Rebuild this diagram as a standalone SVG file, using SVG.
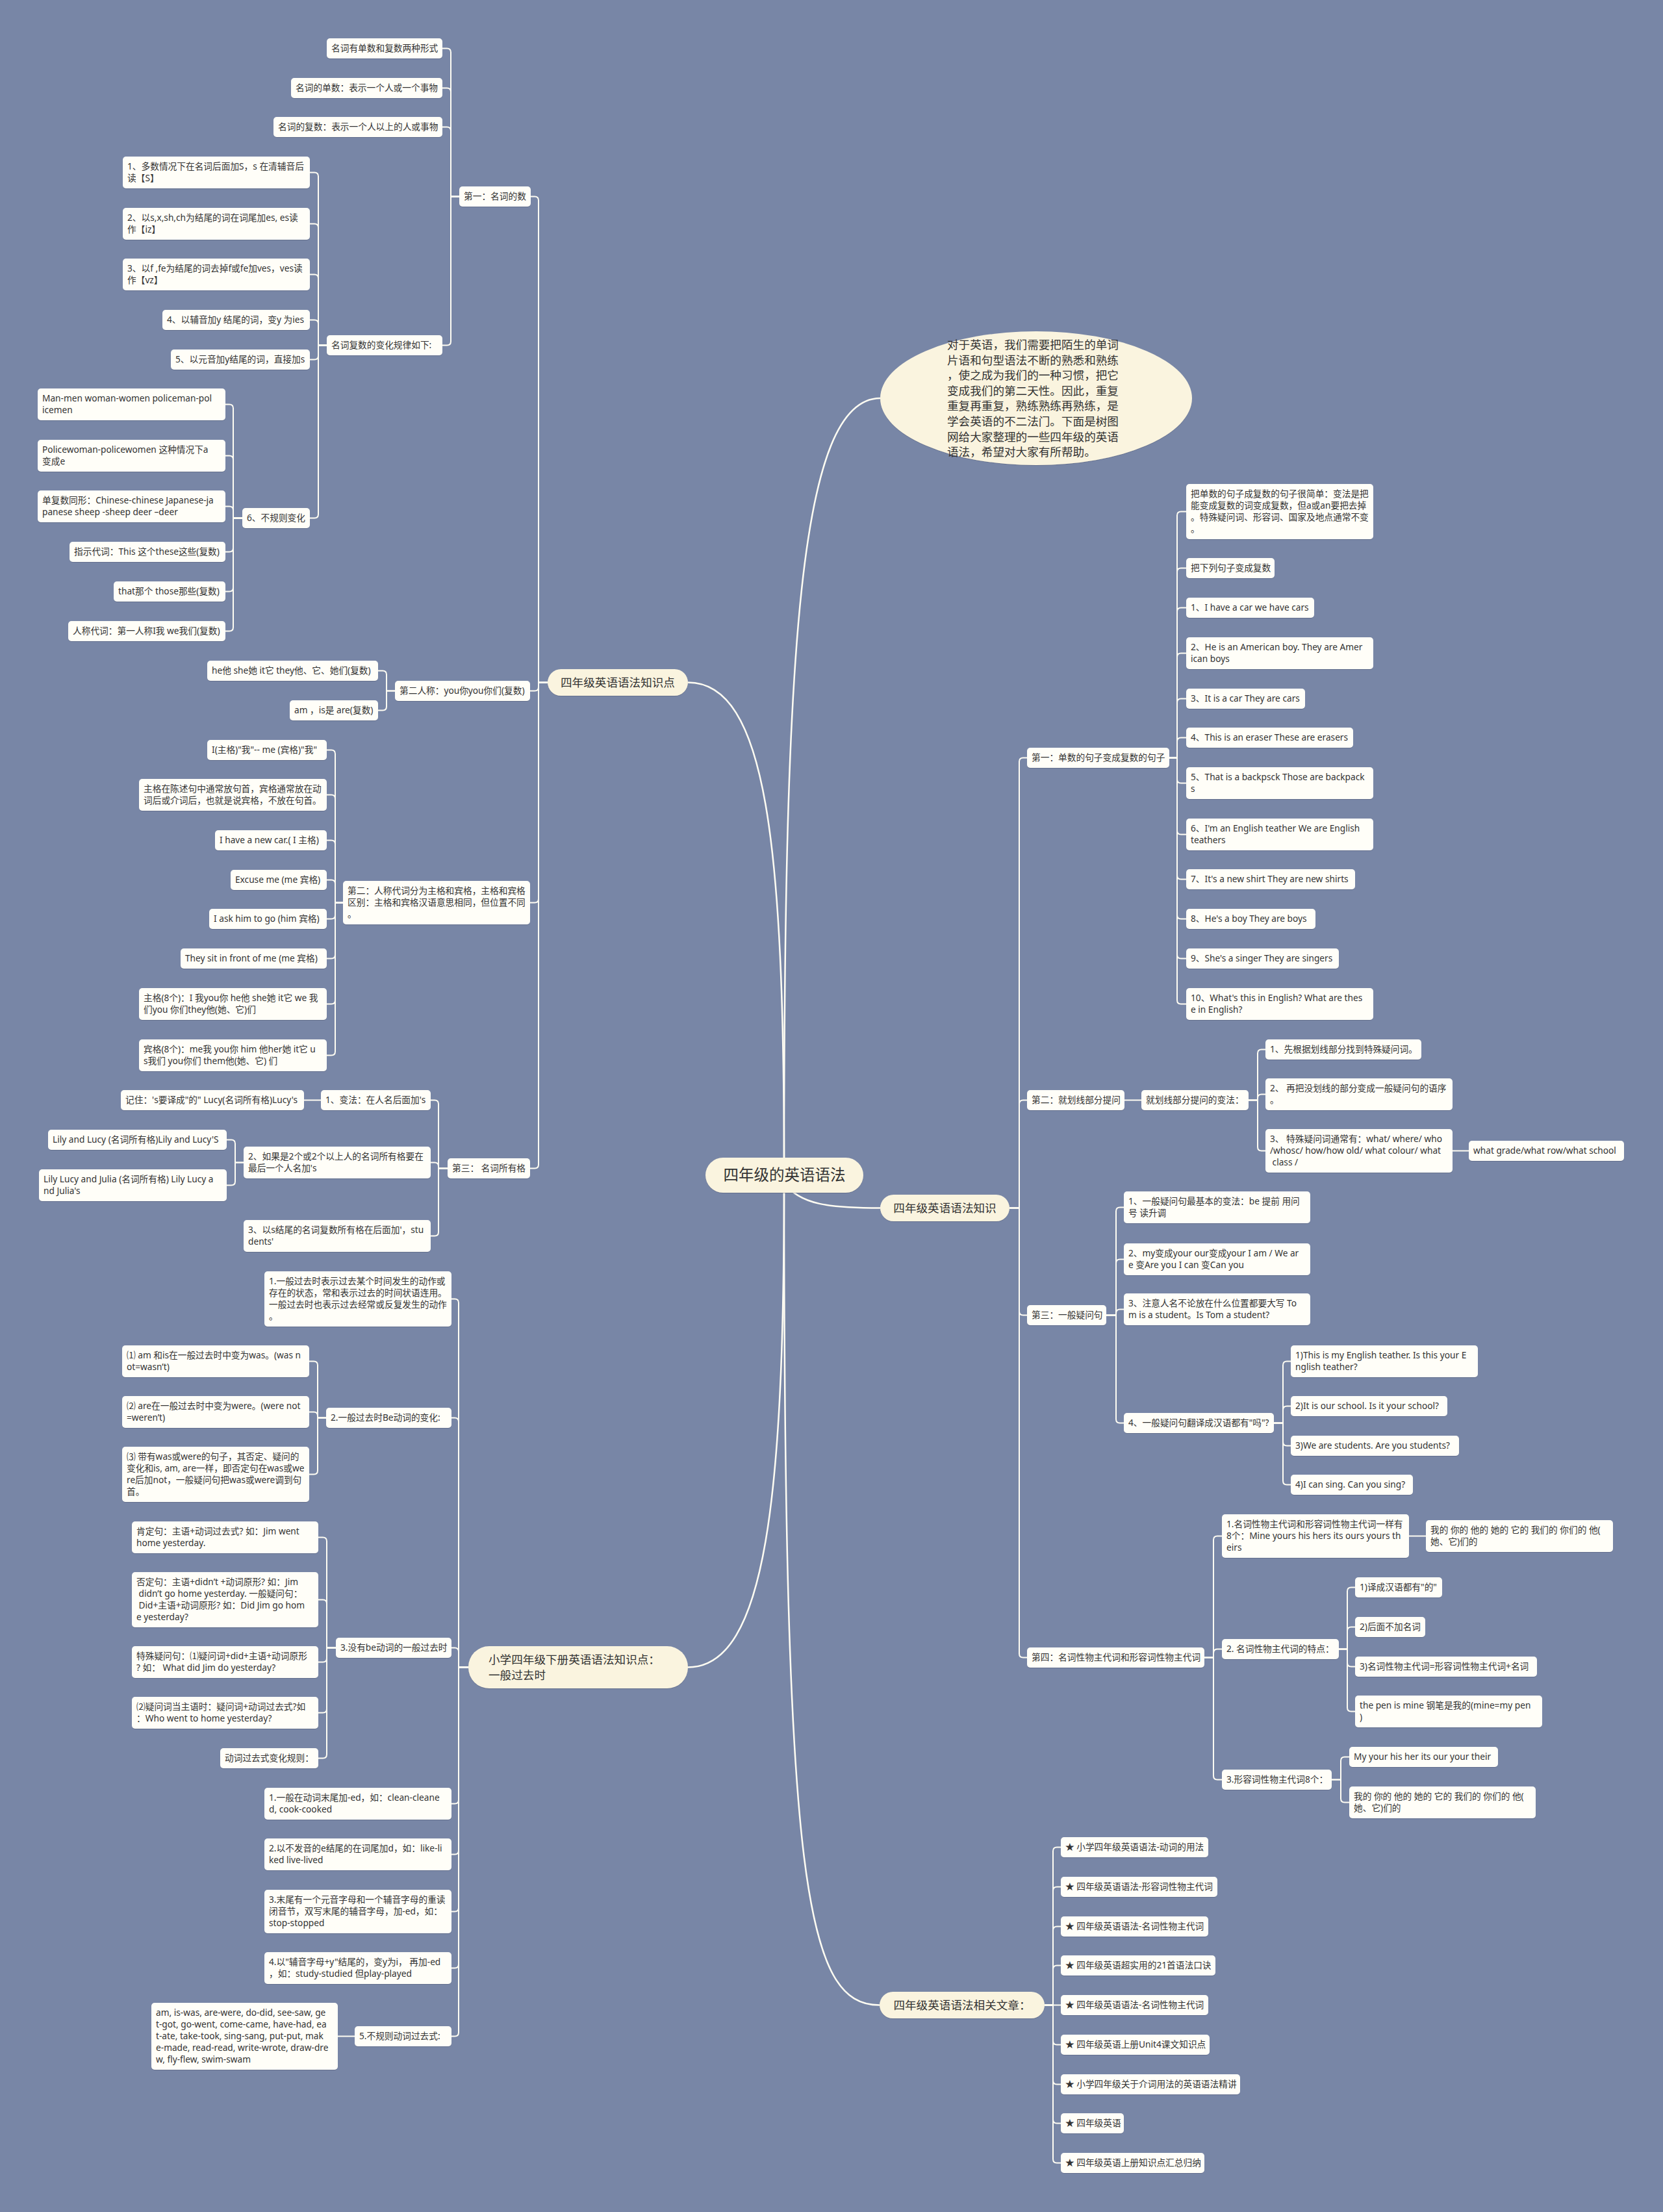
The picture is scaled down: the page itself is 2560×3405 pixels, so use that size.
<svg xmlns="http://www.w3.org/2000/svg" width="2560" height="3405" viewBox="0 0 2560 3405">
<defs>
<filter id="sh" x="-10%" y="-20%" width="120%" height="150%"><feDropShadow dx="0" dy="1" stdDeviation="0.7" flood-color="#3a4560" flood-opacity="0.35"/></filter>
<style>
.n rect{fill:#FFFEF8;rx:5px;ry:5px;filter:url(#sh)}
.n text{font-family:"Noto Sans","Noto Sans CJK SC",sans-serif;font-size:13.7px;fill:#333}
.m rect,.m ellipse{fill:#FAF4DF;filter:url(#sh)}
.m text{font-family:"Noto Sans CJK SC","Noto Sans",sans-serif;font-size:17.6px;fill:#333}
.c path{fill:none;stroke:#FFFDF3;stroke-width:2}
.c path.r{stroke-width:2.5}
</style>
</defs>
<rect x="0" y="0" width="2560" height="3405" fill="#7886A6"/>
<g id="connectors" class="c">
<path class="r" d="M1207,1800 C1207,1000 1230,613 1355,613"/>
<path class="r" d="M1059,1050.5 C1180,1050.5 1207,1300 1207,1800"/>
<path class="r" d="M1207,1820 C1230,1855 1280,1859.5 1355,1859.5"/>
<path class="r" d="M1059,2566.5 C1180,2566.5 1207,2300 1207,1820"/>
<path class="r" d="M1207,1820 C1207,2900 1240,3086.5 1354,3086.5"/>
<path d="M843,1050.5H829V308.5Q829,302.5 823,302.5H817"/>
<path d="M843,1050.5H829V1057.5Q829,1063.5 823,1063.5H816"/>
<path d="M843,1050.5H829V1383.5Q829,1389.5 823,1389.5H816"/>
<path d="M843,1050.5H829V1792.5Q829,1798.5 823,1798.5H816"/>
<path d="M707,302.5H694V80.5Q694,74.5 688,74.5H681"/>
<path d="M707,302.5H694V141.5Q694,135.5 688,135.5H681"/>
<path d="M707,302.5H694V201.5Q694,195.5 688,195.5H681"/>
<path d="M707,302.5H694V525.5Q694,531.5 688,531.5H681"/>
<path d="M503,531.5H490V271.5Q490,265.5 484,265.5H477"/>
<path d="M503,531.5H490V350.5Q490,344.5 484,344.5H477"/>
<path d="M503,531.5H490V428.5Q490,422.5 484,422.5H477"/>
<path d="M503,531.5H490V498.5Q490,492.5 484,492.5H477"/>
<path d="M503,531.5H490V547.5Q490,553.5 484,553.5H477"/>
<path d="M503,531.5H490V791.5Q490,797.5 484,797.5H477"/>
<path d="M373,797.5H359V628.5Q359,622.5 353,622.5H347"/>
<path d="M373,797.5H359V707.5Q359,701.5 353,701.5H347"/>
<path d="M373,797.5H359V785.5Q359,779.5 353,779.5H347"/>
<path d="M373,797.5H359V843.5Q359,849.5 353,849.5H347"/>
<path d="M373,797.5H359V904.5Q359,910.5 353,910.5H347"/>
<path d="M373,797.5H359V965.5Q359,971.5 353,971.5H347"/>
<path d="M608,1063.5H595V1038.5Q595,1032.5 589,1032.5H582"/>
<path d="M608,1063.5H595V1087.5Q595,1093.5 589,1093.5H582"/>
<path d="M528,1389.5H516V1160.5Q516,1154.5 510,1154.5H503"/>
<path d="M528,1389.5H516V1229.5Q516,1223.5 510,1223.5H503"/>
<path d="M528,1389.5H516V1299.5Q516,1293.5 510,1293.5H503"/>
<path d="M528,1389.5H516V1360.5Q516,1354.5 510,1354.5H503"/>
<path d="M528,1389.5H516V1408.5Q516,1414.5 510,1414.5H503"/>
<path d="M528,1389.5H516V1469.5Q516,1475.5 510,1475.5H503"/>
<path d="M528,1389.5H516V1539.5Q516,1545.5 510,1545.5H503"/>
<path d="M528,1389.5H516V1618.5Q516,1624.5 510,1624.5H503"/>
<path d="M689,1798.5H675V1699.5Q675,1693.5 669,1693.5H663"/>
<path d="M689,1798.5H675V1795.5Q675,1789.5 669,1789.5H663"/>
<path d="M689,1798.5H675V1896.5Q675,1902.5 669,1902.5H663"/>
<path d="M494,1693.5H468"/>
<path d="M375,1789.5H362V1760.5Q362,1754.5 356,1754.5H349"/>
<path d="M375,1789.5H362V1818.5Q362,1824.5 356,1824.5H349"/>
<path d="M721,2566.5H706V2005.5Q706,1999.5 700,1999.5H695"/>
<path d="M721,2566.5H706V2188.5Q706,2182.5 700,2182.5H695"/>
<path d="M721,2566.5H706V2542.5Q706,2536.5 700,2536.5H695"/>
<path d="M721,2566.5H706V2770.5Q706,2776.5 700,2776.5H695"/>
<path d="M721,2566.5H706V2848.5Q706,2854.5 700,2854.5H695"/>
<path d="M721,2566.5H706V2936.5Q706,2942.5 700,2942.5H695"/>
<path d="M721,2566.5H706V3023.5Q706,3029.5 700,3029.5H695"/>
<path d="M721,2566.5H706V3128.5Q706,3134.5 700,3134.5H695"/>
<path d="M502,2182.5H489V2101.5Q489,2095.5 483,2095.5H476"/>
<path d="M502,2182.5H489V2179.5Q489,2173.5 483,2173.5H476"/>
<path d="M502,2182.5H489V2263.5Q489,2269.5 483,2269.5H476"/>
<path d="M517,2536.5H503V2372.5Q503,2366.5 497,2366.5H490"/>
<path d="M517,2536.5H503V2468.5Q503,2462.5 497,2462.5H490"/>
<path d="M517,2536.5H503V2552.5Q503,2558.5 497,2558.5H490"/>
<path d="M517,2536.5H503V2630.5Q503,2636.5 497,2636.5H490"/>
<path d="M517,2536.5H503V2700.5Q503,2706.5 497,2706.5H490"/>
<path d="M546,3134.5H520"/>
<path d="M1554,1859.5H1569V1172.5Q1569,1166.5 1575,1166.5H1581"/>
<path d="M1554,1859.5H1569V1699.5Q1569,1693.5 1575,1693.5H1581"/>
<path d="M1554,1859.5H1569V2018.5Q1569,2024.5 1575,2024.5H1581"/>
<path d="M1554,1859.5H1569V2545.5Q1569,2551.5 1575,2551.5H1581"/>
<path d="M1800,1166.5H1812V793.5Q1812,787.5 1818,787.5H1826"/>
<path d="M1800,1166.5H1812V880.5Q1812,874.5 1818,874.5H1826"/>
<path d="M1800,1166.5H1812V941.5Q1812,935.5 1818,935.5H1826"/>
<path d="M1800,1166.5H1812V1011.5Q1812,1005.5 1818,1005.5H1826"/>
<path d="M1800,1166.5H1812V1081.5Q1812,1075.5 1818,1075.5H1826"/>
<path d="M1800,1166.5H1812V1141.5Q1812,1135.5 1818,1135.5H1826"/>
<path d="M1800,1166.5H1812V1199.5Q1812,1205.5 1818,1205.5H1826"/>
<path d="M1800,1166.5H1812V1278.5Q1812,1284.5 1818,1284.5H1826"/>
<path d="M1800,1166.5H1812V1347.5Q1812,1353.5 1818,1353.5H1826"/>
<path d="M1800,1166.5H1812V1408.5Q1812,1414.5 1818,1414.5H1826"/>
<path d="M1800,1166.5H1812V1469.5Q1812,1475.5 1818,1475.5H1826"/>
<path d="M1800,1166.5H1812V1539.5Q1812,1545.5 1818,1545.5H1826"/>
<path d="M1731,1693.5H1757"/>
<path d="M1922,1693.5H1936V1621.5Q1936,1615.5 1942,1615.5H1948"/>
<path d="M1922,1693.5H1936V1690.5Q1936,1684.5 1942,1684.5H1948"/>
<path d="M1922,1693.5H1936V1765.5Q1936,1771.5 1942,1771.5H1948"/>
<path d="M2236,1771.5H2261"/>
<path d="M1703,2024.5H1718V1864.5Q1718,1858.5 1724,1858.5H1730"/>
<path d="M1703,2024.5H1718V1944.5Q1718,1938.5 1724,1938.5H1730"/>
<path d="M1703,2024.5H1718V2021.5Q1718,2015.5 1724,2015.5H1730"/>
<path d="M1703,2024.5H1718V2184.5Q1718,2190.5 1724,2190.5H1730"/>
<path d="M1961,2190.5H1975V2101.5Q1975,2095.5 1981,2095.5H1987"/>
<path d="M1961,2190.5H1975V2170.5Q1975,2164.5 1981,2164.5H1987"/>
<path d="M1961,2190.5H1975V2219.5Q1975,2225.5 1981,2225.5H1987"/>
<path d="M1961,2190.5H1975V2279.5Q1975,2285.5 1981,2285.5H1987"/>
<path d="M1854,2551.5H1868V2370.5Q1868,2364.5 1874,2364.5H1881"/>
<path d="M1854,2551.5H1868V2544.5Q1868,2538.5 1874,2538.5H1881"/>
<path d="M1854,2551.5H1868V2733.5Q1868,2739.5 1874,2739.5H1881"/>
<path d="M2169,2364.5H2195"/>
<path d="M2061,2538.5H2074V2449.5Q2074,2443.5 2080,2443.5H2086"/>
<path d="M2061,2538.5H2074V2510.5Q2074,2504.5 2080,2504.5H2086"/>
<path d="M2061,2538.5H2074V2559.5Q2074,2565.5 2080,2565.5H2086"/>
<path d="M2061,2538.5H2074V2628.5Q2074,2634.5 2080,2634.5H2086"/>
<path d="M2050,2739.5H2064V2710.5Q2064,2704.5 2070,2704.5H2077"/>
<path d="M2050,2739.5H2064V2768.5Q2064,2774.5 2070,2774.5H2077"/>
<path d="M1608,3086.5H1621V2849.5Q1621,2843.5 1627,2843.5H1633"/>
<path d="M1608,3086.5H1621V2910.5Q1621,2904.5 1627,2904.5H1633"/>
<path d="M1608,3086.5H1621V2971.5Q1621,2965.5 1627,2965.5H1633"/>
<path d="M1608,3086.5H1621V3031.5Q1621,3025.5 1627,3025.5H1633"/>
<path d="M1608,3086.5H1633"/>
<path d="M1608,3086.5H1621V3141.5Q1621,3147.5 1627,3147.5H1633"/>
<path d="M1608,3086.5H1621V3202.5Q1621,3208.5 1627,3208.5H1633"/>
<path d="M1608,3086.5H1621V3262.5Q1621,3268.5 1627,3268.5H1633"/>
<path d="M1608,3086.5H1621V3323.5Q1621,3329.5 1627,3329.5H1633"/>
</g>

<g id="root" class="m"><rect x="1086" y="1782" width="243" height="54" rx="27"/><text x="1207.5" y="1817" text-anchor="middle" style="font-size:23.5px">四年级的英语语法</text></g>
<g id="intro" class="m"><ellipse cx="1595" cy="613" rx="240" ry="103"/><text x="1458" y="537">对于英语，我们需要把陌生的单词<tspan x="1458" dy="23.6">片语和句型语法不断的熟悉和熟练</tspan><tspan x="1458" dy="23.6">，使之成为我们的一种习惯，把它</tspan><tspan x="1458" dy="23.6">变成我们的第二天性。因此，重复</tspan><tspan x="1458" dy="23.6">重复再重复，熟练熟练再熟练，是</tspan><tspan x="1458" dy="23.6">学会英语的不二法门。下面是树图</tspan><tspan x="1458" dy="23.6">网给大家整理的一些四年级的英语</tspan><tspan x="1458" dy="23.6">语法，希望对大家有所帮助。</tspan></text></g>
<g id="mA" class="m"><rect x="843" y="1030" width="216" height="41" rx="20.5"/><text x="951" y="1056.5" text-anchor="middle">四年级英语语法知识点</text></g>
<g id="mB" class="m"><rect x="721" y="2534" width="338" height="65" rx="32"/><text x="752" y="2561">小学四年级下册英语语法知识点：<tspan x="752" dy="24">一般过去时</tspan></text></g>
<g id="mC" class="m"><rect x="1355" y="1839" width="199" height="41" rx="20.5"/><text x="1454.5" y="1865.5" text-anchor="middle">四年级英语语法知识</text></g>
<g id="mD" class="m"><rect x="1354" y="3066" width="254" height="41" rx="20.5"/><text x="1481" y="3092.5" text-anchor="middle">四年级英语语法相关文章：</text></g>

<g id="a1" class="n"><rect x="707" y="287" width="110" height="31"/><text x="714" y="307">第一：名词的数</text></g>
<g id="a1a" class="n"><rect x="503" y="59" width="178" height="31"/><text x="510" y="79">名词有单数和复数两种形式</text></g>
<g id="a1b" class="n"><rect x="448" y="120" width="233" height="31"/><text x="455" y="140">名词的单数：表示一个人或一个事物</text></g>
<g id="a1c" class="n"><rect x="421" y="180" width="260" height="31"/><text x="428" y="200">名词的复数：表示一个人以上的人或事物</text></g>
<g id="a1d" class="n"><rect x="503" y="516" width="178" height="31"/><text x="510" y="536">名词复数的变化规律如下:</text></g>
<g id="a1d1" class="n"><rect x="189" y="241" width="288" height="49"/><text x="196" y="261">1、多数情况下在名词后面加S，s 在清辅音后<tspan x="196" dy="18">读【S】</tspan></text></g>
<g id="a1d2" class="n"><rect x="189" y="320" width="288" height="49"/><text x="196" y="340">2、以s,x,sh,ch为结尾的词在词尾加es, es读<tspan x="196" dy="18">作【iz】</tspan></text></g>
<g id="a1d3" class="n"><rect x="189" y="398" width="288" height="49"/><text x="196" y="418">3、以f ,fe为结尾的词去掉f或fe加ves，ves读<tspan x="196" dy="18">作【vz】</tspan></text></g>
<g id="a1d4" class="n"><rect x="250" y="477" width="227" height="31"/><text x="257" y="497">4、以辅音加y 结尾的词，变y 为ies</text></g>
<g id="a1d5" class="n"><rect x="263" y="538" width="214" height="31"/><text x="270" y="558">5、以元音加y结尾的词，直接加s</text></g>
<g id="a1d6" class="n"><rect x="373" y="782" width="104" height="31"/><text x="380" y="802">6、不规则变化</text></g>
<g id="a1d6a" class="n"><rect x="58" y="598" width="289" height="49"/><text x="65" y="618">Man-men woman-women policeman-pol<tspan x="65" dy="18">icemen</tspan></text></g>
<g id="a1d6b" class="n"><rect x="58" y="677" width="289" height="49"/><text x="65" y="697">Policewoman-policewomen 这种情况下a<tspan x="65" dy="18">变成e</tspan></text></g>
<g id="a1d6c" class="n"><rect x="58" y="755" width="289" height="49"/><text x="65" y="775">单复数同形：Chinese-chinese Japanese-ja<tspan x="65" dy="18">panese sheep -sheep deer –deer</tspan></text></g>
<g id="a1d6d" class="n"><rect x="107" y="834" width="240" height="31"/><text x="114" y="854">指示代词：This 这个these这些(复数)</text></g>
<g id="a1d6e" class="n"><rect x="175" y="895" width="172" height="31"/><text x="182" y="915">that那个 those那些(复数)</text></g>
<g id="a1d6f" class="n"><rect x="105" y="956" width="242" height="31"/><text x="112" y="976">人称代词：第一人称I我 we我们(复数)</text></g>
<g id="a2" class="n"><rect x="608" y="1048" width="208" height="31"/><text x="615" y="1068">第二人称：you你you你们(复数)</text></g>
<g id="a2a" class="n"><rect x="319" y="1017" width="263" height="31"/><text x="326" y="1037">he他 she她 it它 they他、它、她们(复数)</text></g>
<g id="a2b" class="n"><rect x="446" y="1078" width="136" height="31"/><text x="453" y="1098">am ，is是 are(复数)</text></g>
<g id="a3" class="n"><rect x="528" y="1356" width="288" height="67"/><text x="535" y="1376">第二：人称代词分为主格和宾格，主格和宾格<tspan x="535" dy="18">区别：主格和宾格汉语意思相同，但位置不同</tspan><tspan x="535" dy="18">。</tspan></text></g>
<g id="a3a" class="n"><rect x="319" y="1139" width="184" height="31"/><text x="326" y="1159">I(主格)"我"-- me (宾格)"我"</text></g>
<g id="a3b" class="n"><rect x="214" y="1199" width="289" height="49"/><text x="221" y="1219">主格在陈述句中通常放句首，宾格通常放在动<tspan x="221" dy="18">词后或介词后，也就是说宾格，不放在句首。</tspan></text></g>
<g id="a3c" class="n"><rect x="331" y="1278" width="172" height="31"/><text x="338" y="1298">I have a new car.( I 主格)</text></g>
<g id="a3d" class="n"><rect x="355" y="1339" width="148" height="31"/><text x="362" y="1359">Excuse me (me 宾格)</text></g>
<g id="a3e" class="n"><rect x="322" y="1399" width="181" height="31"/><text x="329" y="1419">I ask him to go (him 宾格)</text></g>
<g id="a3f" class="n"><rect x="278" y="1460" width="225" height="31"/><text x="285" y="1480">They sit in front of me (me 宾格)</text></g>
<g id="a3g" class="n"><rect x="214" y="1521" width="289" height="49"/><text x="221" y="1541">主格(8个)：I 我you你 he他 she她 it它 we 我<tspan x="221" dy="18">们you 你们they他(她、它)们</tspan></text></g>
<g id="a3h" class="n"><rect x="214" y="1600" width="289" height="49"/><text x="221" y="1620">宾格(8个)：me我 you你 him 他her她 it它 u<tspan x="221" dy="18">s我们 you你们 them他(她、它) 们</tspan></text></g>
<g id="a4" class="n"><rect x="689" y="1783" width="127" height="31"/><text x="696" y="1803">第三： 名词所有格</text></g>
<g id="a4a" class="n"><rect x="494" y="1678" width="169" height="31"/><text x="501" y="1698">1、变法：在人名后面加's</text></g>
<g id="a4a1" class="n"><rect x="186" y="1678" width="282" height="31"/><text x="193" y="1698">记住：'s要译成"的" Lucy(名词所有格)Lucy's</text></g>
<g id="a4b" class="n"><rect x="375" y="1765" width="288" height="49"/><text x="382" y="1785">2、如果是2个或2个以上人的名词所有格要在<tspan x="382" dy="18">最后一个人名加's</tspan></text></g>
<g id="a4b1" class="n"><rect x="74" y="1739" width="275" height="31"/><text x="81" y="1759">Lily and Lucy (名词所有格)Lily and Lucy'S</text></g>
<g id="a4b2" class="n"><rect x="60" y="1800" width="289" height="49"/><text x="67" y="1820">Lily Lucy and Julia (名词所有格) Lily Lucy a<tspan x="67" dy="18">nd Julia's</tspan></text></g>
<g id="a4c" class="n"><rect x="375" y="1878" width="288" height="49"/><text x="382" y="1898">3、以s结尾的名词复数所有格在后面加'，stu<tspan x="382" dy="18">dents'</tspan></text></g>

<g id="b1" class="n"><rect x="407" y="1957" width="288" height="85"/><text x="414" y="1977">1.一般过去时表示过去某个时间发生的动作或<tspan x="414" dy="18">存在的状态，常和表示过去的时间状语连用。</tspan><tspan x="414" dy="18">一般过去时也表示过去经常或反复发生的动作</tspan><tspan x="414" dy="18">。</tspan></text></g>
<g id="b2" class="n"><rect x="502" y="2167" width="193" height="31"/><text x="509" y="2187">2.一般过去时Be动词的变化:</text></g>
<g id="b2a" class="n"><rect x="188" y="2071" width="288" height="49"/><text x="195" y="2091">⑴ am 和is在一般过去时中变为was。(was n<tspan x="195" dy="18">ot=wasn’t)</tspan></text></g>
<g id="b2b" class="n"><rect x="188" y="2149" width="288" height="49"/><text x="195" y="2169">⑵ are在一般过去时中变为were。(were not<tspan x="195" dy="18">=weren’t)</tspan></text></g>
<g id="b2c" class="n"><rect x="188" y="2227" width="288" height="85"/><text x="195" y="2247">⑶ 带有was或were的句子，其否定、疑问的<tspan x="195" dy="18">变化和is, am, are一样，即否定句在was或we</tspan><tspan x="195" dy="18">re后加not，一般疑问句把was或were调到句</tspan><tspan x="195" dy="18">首。</tspan></text></g>
<g id="b3" class="n"><rect x="517" y="2521" width="178" height="31"/><text x="524" y="2541">3.没有be动词的一般过去时</text></g>
<g id="b3a" class="n"><rect x="203" y="2342" width="287" height="49"/><text x="210" y="2362">肯定句：主语+动词过去式? 如：Jim went<tspan x="210" dy="18">home yesterday.</tspan></text></g>
<g id="b3b" class="n"><rect x="203" y="2420" width="287" height="85"/><text x="210" y="2440">否定句：主语+didn’t +动词原形? 如：Jim<tspan x="210" dy="18"> didn’t go home yesterday. 一般疑问句：</tspan><tspan x="210" dy="18"> Did+主语+动词原形? 如：Did Jim go hom</tspan><tspan x="210" dy="18">e yesterday?</tspan></text></g>
<g id="b3c" class="n"><rect x="203" y="2534" width="287" height="49"/><text x="210" y="2554">特殊疑问句：⑴疑问词+did+主语+动词原形<tspan x="210" dy="18">? 如： What did Jim do yesterday?</tspan></text></g>
<g id="b3d" class="n"><rect x="203" y="2612" width="287" height="49"/><text x="210" y="2632">⑵疑问词当主语时：疑问词+动词过去式?如<tspan x="210" dy="18">：Who went to home yesterday?</tspan></text></g>
<g id="b3e" class="n"><rect x="339" y="2691" width="151" height="31"/><text x="346" y="2711">动词过去式变化规则：</text></g>
<g id="b4" class="n"><rect x="407" y="2752" width="288" height="49"/><text x="414" y="2772">1.一般在动词末尾加-ed，如：clean-cleane<tspan x="414" dy="18">d, cook-cooked</tspan></text></g>
<g id="b5" class="n"><rect x="407" y="2830" width="288" height="49"/><text x="414" y="2850">2.以不发音的e结尾的在词尾加d，如：like-li<tspan x="414" dy="18">ked live-lived</tspan></text></g>
<g id="b6" class="n"><rect x="407" y="2909" width="288" height="67"/><text x="414" y="2929">3.末尾有一个元音字母和一个辅音字母的重读<tspan x="414" dy="18">闭音节，双写末尾的辅音字母，加-ed，如：</tspan><tspan x="414" dy="18">stop-stopped</tspan></text></g>
<g id="b7" class="n"><rect x="407" y="3005" width="288" height="49"/><text x="414" y="3025">4.以"辅音字母+y"结尾的，变y为i， 再加-ed<tspan x="414" dy="18">，如：study-studied 但play-played</tspan></text></g>
<g id="b8" class="n"><rect x="546" y="3119" width="149" height="31"/><text x="553" y="3139">5.不规则动词过去式:</text></g>
<g id="b8a" class="n"><rect x="233" y="3083" width="287" height="103"/><text x="240" y="3103">am, is-was, are-were, do-did, see-saw, ge<tspan x="240" dy="18">t-got, go-went, come-came, have-had, ea</tspan><tspan x="240" dy="18">t-ate, take-took, sing-sang, put-put, mak</tspan><tspan x="240" dy="18">e-made, read-read, write-wrote, draw-dre</tspan><tspan x="240" dy="18">w, fly-flew, swim-swam</tspan></text></g>

<g id="c1" class="n"><rect x="1581" y="1151" width="219" height="31"/><text x="1588" y="1171">第一：单数的句子变成复数的句子</text></g>
<g id="c1a" class="n"><rect x="1826" y="745" width="288" height="85"/><text x="1833" y="765">把单数的句子成复数的句子很简单：变法是把<tspan x="1833" dy="18">能变成复数的词变成复数，但a或an要把去掉</tspan><tspan x="1833" dy="18">。特殊疑问词、形容词、国家及地点通常不变</tspan><tspan x="1833" dy="18">。</tspan></text></g>
<g id="c1b" class="n"><rect x="1826" y="859" width="136" height="31"/><text x="1833" y="879">把下列句子变成复数</text></g>
<g id="c1c" class="n"><rect x="1826" y="920" width="197" height="31"/><text x="1833" y="940">1、I have a car we have cars</text></g>
<g id="c1d" class="n"><rect x="1826" y="981" width="288" height="49"/><text x="1833" y="1001">2、He is an American boy. They are Amer<tspan x="1833" dy="18">ican boys</tspan></text></g>
<g id="c1e" class="n"><rect x="1826" y="1060" width="183" height="31"/><text x="1833" y="1080">3、It is a car They are cars</text></g>
<g id="c1f" class="n"><rect x="1826" y="1120" width="257" height="31"/><text x="1833" y="1140">4、This is an eraser These are erasers</text></g>
<g id="c1g" class="n"><rect x="1826" y="1181" width="288" height="49"/><text x="1833" y="1201">5、That is a backpsck Those are backpack<tspan x="1833" dy="18">s</tspan></text></g>
<g id="c1h" class="n"><rect x="1826" y="1260" width="288" height="49"/><text x="1833" y="1280">6、I'm an English teather We are English<tspan x="1833" dy="18">teathers</tspan></text></g>
<g id="c1i" class="n"><rect x="1826" y="1338" width="260" height="31"/><text x="1833" y="1358">7、It's a new shirt They are new shirts</text></g>
<g id="c1j" class="n"><rect x="1826" y="1399" width="199" height="31"/><text x="1833" y="1419">8、He's a boy They are boys</text></g>
<g id="c1k" class="n"><rect x="1826" y="1460" width="235" height="31"/><text x="1833" y="1480">9、She's a singer They are singers</text></g>
<g id="c1l" class="n"><rect x="1826" y="1521" width="288" height="49"/><text x="1833" y="1541">10、What's this in English? What are thes<tspan x="1833" dy="18">e in English?</tspan></text></g>
<g id="c2" class="n"><rect x="1581" y="1678" width="150" height="31"/><text x="1588" y="1698">第二：就划线部分提问</text></g>
<g id="c2a" class="n"><rect x="1757" y="1678" width="165" height="31"/><text x="1764" y="1698">就划线部分提问的变法：</text></g>
<g id="c2a1" class="n"><rect x="1948" y="1600" width="240" height="31"/><text x="1955" y="1620">1、先根据划线部分找到特殊疑问词。</text></g>
<g id="c2a2" class="n"><rect x="1948" y="1660" width="288" height="49"/><text x="1955" y="1680">2、 再把没划线的部分变成一般疑问句的语序<tspan x="1955" dy="18">。</tspan></text></g>
<g id="c2a3" class="n"><rect x="1948" y="1738" width="288" height="67"/><text x="1955" y="1758">3、 特殊疑问词通常有：what/ where/ who<tspan x="1955" dy="18">/whosc/ how/how old/ what colour/ what</tspan><tspan x="1955" dy="18"> class /</tspan></text></g>
<g id="c2a3a" class="n"><rect x="2261" y="1756" width="239" height="31"/><text x="2268" y="1776">what grade/what row/what school</text></g>
<g id="c3" class="n"><rect x="1581" y="2009" width="122" height="31"/><text x="1588" y="2029">第三：一般疑问句</text></g>
<g id="c3a" class="n"><rect x="1730" y="1834" width="287" height="49"/><text x="1737" y="1854">1、一般疑问句最基本的变法：be 提前 用问<tspan x="1737" dy="18">号 读升调</tspan></text></g>
<g id="c3b" class="n"><rect x="1730" y="1914" width="287" height="49"/><text x="1737" y="1934">2、my变成your our变成your I am / We ar<tspan x="1737" dy="18">e 变Are you I can 变Can you</tspan></text></g>
<g id="c3c" class="n"><rect x="1730" y="1991" width="287" height="49"/><text x="1737" y="2011">3、注意人名不论放在什么位置都要大写 To<tspan x="1737" dy="18">m is a student。Is Tom a student?</tspan></text></g>
<g id="c3d" class="n"><rect x="1730" y="2175" width="231" height="31"/><text x="1737" y="2195">4、一般疑问句翻译成汉语都有"吗"?</text></g>
<g id="c3d1" class="n"><rect x="1987" y="2071" width="288" height="49"/><text x="1994" y="2091">1)This is my English teather. Is this your E<tspan x="1994" dy="18">nglish teather?</tspan></text></g>
<g id="c3d2" class="n"><rect x="1987" y="2149" width="241" height="31"/><text x="1994" y="2169">2)It is our school. Is it your school?</text></g>
<g id="c3d3" class="n"><rect x="1987" y="2210" width="259" height="31"/><text x="1994" y="2230">3)We are students. Are you students?</text></g>
<g id="c3d4" class="n"><rect x="1987" y="2270" width="188" height="31"/><text x="1994" y="2290">4)I can sing. Can you sing?</text></g>
<g id="c4" class="n"><rect x="1581" y="2536" width="273" height="31"/><text x="1588" y="2556">第四：名词性物主代词和形容词性物主代词</text></g>
<g id="c4a" class="n"><rect x="1881" y="2331" width="288" height="67"/><text x="1888" y="2351">1.名词性物主代词和形容词性物主代词一样有<tspan x="1888" dy="18">8个：Mine yours his hers its ours yours th</tspan><tspan x="1888" dy="18">eirs</tspan></text></g>
<g id="c4a1" class="n"><rect x="2195" y="2340" width="288" height="49"/><text x="2202" y="2360">我的 你的 他的 她的 它的 我们的 你们的 他(<tspan x="2202" dy="18">她、它)们的</tspan></text></g>
<g id="c4b" class="n"><rect x="1881" y="2523" width="180" height="31"/><text x="1888" y="2543">2. 名词性物主代词的特点：</text></g>
<g id="c4b1" class="n"><rect x="2086" y="2428" width="134" height="31"/><text x="2093" y="2448">1)译成汉语都有"的"</text></g>
<g id="c4b2" class="n"><rect x="2086" y="2489" width="108" height="31"/><text x="2093" y="2509">2)后面不加名词</text></g>
<g id="c4b3" class="n"><rect x="2086" y="2550" width="280" height="31"/><text x="2093" y="2570">3)名词性物主代词=形容词性物主代词+名词</text></g>
<g id="c4b4" class="n"><rect x="2086" y="2610" width="288" height="49"/><text x="2093" y="2630">the pen is mine 钢笔是我的(mine=my pen<tspan x="2093" dy="18">)</tspan></text></g>
<g id="c4c" class="n"><rect x="1881" y="2724" width="169" height="31"/><text x="1888" y="2744">3.形容词性物主代词8个：</text></g>
<g id="c4c1" class="n"><rect x="2077" y="2689" width="229" height="31"/><text x="2084" y="2709">My your his her its our your their</text></g>
<g id="c4c2" class="n"><rect x="2077" y="2750" width="287" height="49"/><text x="2084" y="2770">我的 你的 他的 她的 它的 我们的 你们的 他(<tspan x="2084" dy="18">她、它)们的</tspan></text></g>

<g id="d1" class="n"><rect x="1633" y="2828" width="227" height="31"/><text x="1640" y="2848">★ 小学四年级英语语法-动词的用法</text></g>
<g id="d2" class="n"><rect x="1633" y="2889" width="241" height="31"/><text x="1640" y="2909">★ 四年级英语语法-形容词性物主代词</text></g>
<g id="d3" class="n"><rect x="1633" y="2950" width="227" height="31"/><text x="1640" y="2970">★ 四年级英语语法-名词性物主代词</text></g>
<g id="d4" class="n"><rect x="1633" y="3010" width="238" height="31"/><text x="1640" y="3030">★ 四年级英语超实用的21首语法口诀</text></g>
<g id="d5" class="n"><rect x="1633" y="3071" width="227" height="31"/><text x="1640" y="3091">★ 四年级英语语法-名词性物主代词</text></g>
<g id="d6" class="n"><rect x="1633" y="3132" width="229" height="31"/><text x="1640" y="3152">★ 四年级英语上册Unit4课文知识点</text></g>
<g id="d7" class="n"><rect x="1633" y="3193" width="276" height="31"/><text x="1640" y="3213">★ 小学四年级关于介词用法的英语语法精讲</text></g>
<g id="d8" class="n"><rect x="1633" y="3253" width="97" height="31"/><text x="1640" y="3273">★ 四年级英语</text></g>
<g id="d9" class="n"><rect x="1633" y="3314" width="221" height="31"/><text x="1640" y="3334">★ 四年级英语上册知识点汇总归纳</text></g>
</svg>
